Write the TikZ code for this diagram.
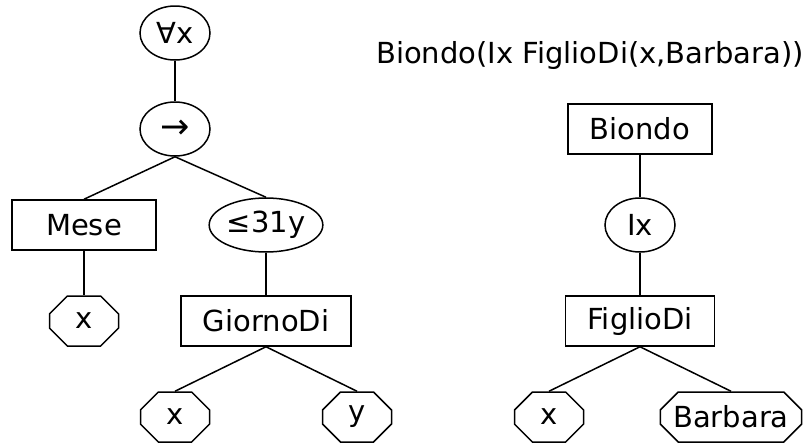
\documentclass[tikz,border=0pt]{standalone}
\usepackage{fontspec}
\setmainfont{DejaVu Sans}
\usetikzlibrary{shapes}

\begin{document}
\begin{tikzpicture}[x=1pt,y=-1pt,level distance=96pt,sibling distance=182pt,parent anchor=south,child anchor=north,
every node/.style={draw,line width=1.5pt,font=\fontsize{29}{34}\selectfont,inner sep=1pt},
edge from parent/.style={draw,line width=1.5pt},
quant/.style={ellipse,minimum width=70pt,minimum height=54pt},
pred/.style={rectangle,minimum width=144pt,minimum height=50pt,inner xsep=22pt},
term/.style={chamfered rectangle,chamfered rectangle xsep=9pt,chamfered rectangle ysep=9pt,minimum width=69pt,minimum height=50pt,inner xsep=4pt}]
\useasboundingbox (0,0) rectangle (812,445);
\node[quant,level distance=97pt](forall) at (175,33) {∀x}
child { node[quant](impl) {\fontsize{35}{34}\selectfont →}
child { node[pred](mese) {Mese}
child { node[term](mesex) {x} } }
child { node[quant](leq) {≤31y}
child { node[pred](giorno) {GiornoDi}
child { node[term](giornox) {x} }
child { node[term](giornoy) {y} } } } };
\node[pred](biondo) at (640,129) {Biondo}
child { node[quant](iota) {Ix}
child { node[pred](figlio) {FiglioDi}
child { node[term](figliox) {x} }
child { node[term](barbara) {Barbara} } } };
\node[draw=none,anchor=base](title) at (590,63) {Biondo(Ix FiglioDi(x,Barbara))};
\end{tikzpicture}
\end{document}
